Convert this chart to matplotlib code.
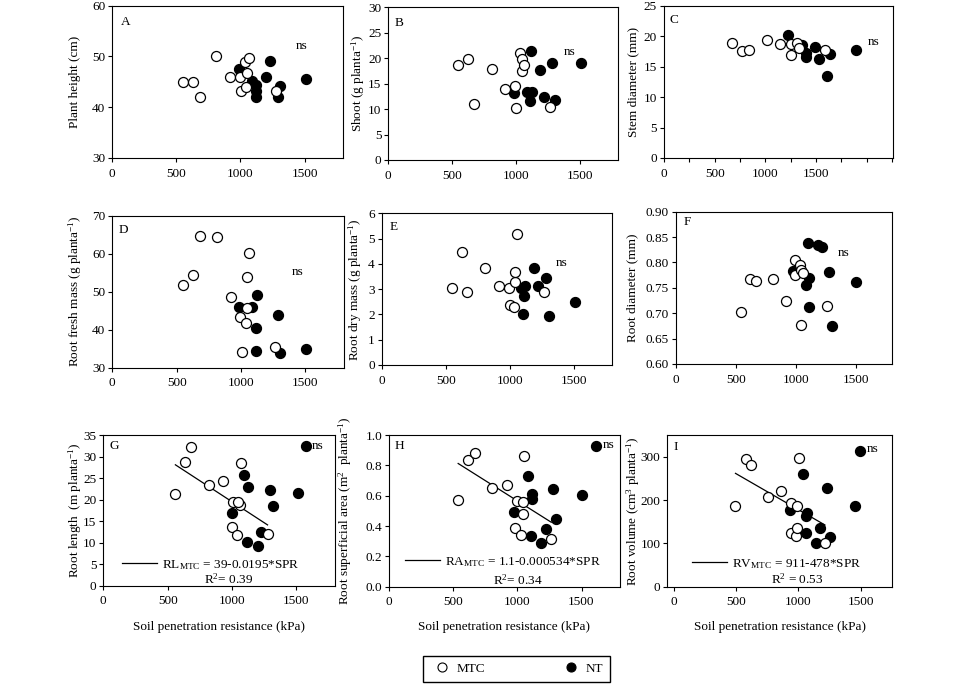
import matplotlib
matplotlib.use('Agg')
import matplotlib.pyplot as plt
from matplotlib.lines import Line2D
from matplotlib.ticker import FormatStrFormatter, FixedLocator
import matplotlib.transforms as mtransforms
import numpy as np

plt.rcParams['font.family'] = ['Liberation Serif', 'DejaVu Serif']
plt.rcParams['mathtext.fontset'] = 'custom'
plt.rcParams['mathtext.rm'] = 'Liberation Serif'
plt.rcParams['mathtext.it'] = 'Liberation Serif:italic'
plt.rcParams['mathtext.bf'] = 'Liberation Serif:bold'
plt.rcParams['font.size'] = 9.5

# ---------------- data ----------------
A_mtc_x = [551, 629, 681, 812, 922, 1000, 1005, 1039, 1070, 1052, 1047, 1274]
A_mtc_y = [45.0, 45.0, 42.1, 50.1, 46.0, 46.0, 43.1, 49.0, 49.6, 46.7, 44.0, 43.1]
A_nt_x = [992, 1091, 1123, 1123, 1125, 1201, 1227, 1308, 1292, 1514]
A_nt_y = [47.5, 45.2, 44.4, 43.1, 42.1, 46.0, 49.1, 44.2, 42.1, 45.6]

B_mtc_x = [543, 621, 671, 809, 914, 992, 1000, 1031, 1044, 1044, 1063, 1266]
B_mtc_y = [18.7, 19.8, 11.1, 17.8, 14.0, 14.6, 10.2, 21.1, 19.8, 17.5, 18.7, 10.5]
B_nt_x = [1115, 984, 1089, 1123, 1110, 1188, 1219, 1279, 1306, 1507]
B_nt_y = [21.5, 13.1, 13.4, 13.4, 11.5, 17.6, 12.3, 19.0, 11.8, 19.0]

C_mtc_x = [674, 773, 839, 1013, 1145, 1250, 1250, 1309, 1332, 1589]
C_mtc_y = [18.9, 17.6, 17.8, 19.3, 18.7, 18.7, 16.9, 18.8, 18.0, 17.7]
C_nt_x = [1227, 1365, 1398, 1398, 1490, 1533, 1638, 1606, 1892]
C_nt_y = [20.2, 18.5, 17.2, 16.5, 18.3, 16.3, 17.0, 13.5, 17.7]

D_mtc_x = [552, 629, 681, 816, 919, 992, 1005, 1044, 1036, 1049, 1062, 1264]
D_mtc_y = [51.8, 54.4, 64.6, 64.3, 48.7, 43.4, 34.2, 45.6, 41.8, 54.0, 60.1, 35.5]
D_nt_x = [984, 1088, 1121, 1116, 1114, 1285, 1303, 1502]
D_nt_y = [45.9, 46.1, 49.2, 40.4, 34.5, 43.9, 33.8, 34.8]

E_mtc_x = [545, 623, 667, 804, 916, 991, 999, 1030, 1038, 1043, 1059, 1264]
E_mtc_y = [3.03, 4.48, 2.90, 3.83, 3.13, 3.06, 2.37, 2.28, 3.30, 3.69, 5.18, 2.90]
E_nt_x = [1090, 1116, 1111, 1103, 1186, 1220, 1285, 1303, 1505]
E_nt_y = [3.03, 3.13, 2.74, 2.02, 3.83, 3.13, 3.43, 1.94, 2.48]

F_mtc_x = [542, 620, 670, 808, 917, 995, 995, 1036, 1042, 1064, 1042, 1264]
F_mtc_y = [0.702, 0.767, 0.764, 0.767, 0.725, 0.805, 0.775, 0.795, 0.785, 0.779, 0.676, 0.714]
F_nt_x = [981, 1106, 1114, 1086, 1114, 1189, 1222, 1281, 1300, 1500]
F_nt_y = [0.783, 0.838, 0.769, 0.756, 0.712, 0.834, 0.831, 0.782, 0.675, 0.762]

G_mtc_x = [560, 638, 685, 825, 930, 1008, 1060, 1050, 1003, 1042, 1073, 1276]
G_mtc_y = [21.4, 28.8, 32.3, 23.4, 24.3, 19.5, 18.7, 19.4, 13.7, 11.8, 28.6, 12.0]
G_nt_x = [997, 1094, 1128, 1120, 1203, 1229, 1297, 1315, 1516, 1575]
G_nt_y = [17.0, 25.7, 23.0, 10.2, 9.3, 12.5, 22.2, 18.5, 21.6, 32.4]

H_mtc_x = [539, 618, 670, 806, 916, 984, 995, 1029, 1042, 1042, 1055, 1264]
H_mtc_y = [0.571, 0.835, 0.884, 0.648, 0.670, 0.385, 0.565, 0.341, 0.556, 0.479, 0.862, 0.314]
H_nt_x = [977, 1086, 1113, 1113, 1107, 1186, 1220, 1278, 1304, 1505, 1610]
H_nt_y = [0.495, 0.730, 0.611, 0.578, 0.334, 0.290, 0.380, 0.642, 0.444, 0.604, 0.930]

I_mtc_x = [497, 578, 623, 759, 866, 939, 944, 984, 992, 992, 1005, 1214]
I_mtc_y = [187, 294, 281, 208, 221, 125, 192, 118, 136, 186, 298, 100]
I_nt_x = [931, 1038, 1067, 1064, 1064, 1139, 1171, 1233, 1259, 1455, 1495]
I_nt_y = [177, 259, 171, 164, 125, 100, 135, 228, 115, 187, 313]

# regression lines for MTC (intercept, slope) in panels G, H, I
fit_G = (39.0, -0.0195)
fit_H = (1.1, -0.000534)
fit_I = (344.0, -0.166)

eq_G = r'RL$_{\rm MTC}$ = 39-0.0195*SPR'
eq_H = r'RA$_{\rm MTC}$ = 1.1-0.000534*SPR'
eq_I = r'RV$_{\rm MTC}$ = 911-478*SPR'
r2_G = r'R$^2$= 0.39'
r2_H = r'R$^2$= 0.34'
r2_I = r'R$^2$ = 0.53'

series_labels = ['MTC', 'NT']
xlabel = 'Soil penetration resistance (kPa)'

# ---------------- layout ----------------
W, H = 960, 684
fig = plt.figure(figsize=(W / 100, H / 100), dpi=100)


def rect(l, r, t, b):
    return [l / W, 1 - b / H, (r - l) / W, (b - t) / H]


panels = [
    dict(k='A', box=(112.3, 343, 5.7, 158), mx=A_mtc_x, my=A_mtc_y, nx=A_nt_x, ny=A_nt_y,
         ylabel='Plant height (cm)', ylim=(30, 60), yt=[30, 40, 50, 60], fmt='%g',
         xlim=(0, 1800), ns=(1480, 52.1), ylx=75, let=(8.7, -16)),
    dict(k='B', box=(388.3, 618.3, 7.3, 160), mx=B_mtc_x, my=B_mtc_y, nx=B_nt_x, ny=B_nt_y,
         ylabel=r'Shoot (g planta$^{-1}$)', ylim=(0, 30), yt=[0, 5, 10, 15, 20, 25, 30], fmt='%g',
         xlim=(0, 1800), ns=(1418, 21.3), ylx=358.3, let=(6.7, -15.4)),
    dict(k='C', box=(664, 893, 5.7, 158), mx=C_mtc_x, my=C_mtc_y, nx=C_nt_x, ny=C_nt_y,
         ylabel='Stem diameter (mm)', ylim=(0, 25), yt=[0, 5, 10, 15, 20, 25], fmt='%g',
         xlim=(0, 2260), ns=(2066, 19.1), ylx=633.3, let=(6, -14.3), minor=True),
    dict(k='D', box=(112.3, 344, 215.7, 367.7), mx=D_mtc_x, my=D_mtc_y, nx=D_nt_x, ny=D_nt_y,
         ylabel=r'Root fresh mass (g planta$^{-1}$)', ylim=(30, 70), yt=[30, 40, 50, 60, 70], fmt='%g',
         xlim=(0, 1800), ns=(1437, 55.3), ylx=75, let=(6.7, -14.3)),
    dict(k='E', box=(381.7, 612.3, 213.3, 365), mx=E_mtc_x, my=E_mtc_y, nx=E_nt_x, ny=E_nt_y,
         ylabel=r'Root dry mass (g planta$^{-1}$)', ylim=(0, 6), yt=[0, 1, 2, 3, 4, 5, 6], fmt='%g',
         xlim=(0, 1800), ns=(1401, 4.05), ylx=355, let=(8.3, -14)),
    dict(k='F', box=(675.7, 891.7, 211.7, 364), mx=F_mtc_x, my=F_mtc_y, nx=F_nt_x, ny=F_nt_y,
         ylabel='Root diameter (mm)', ylim=(0.6, 0.9),
         yt=[0.60, 0.65, 0.70, 0.75, 0.80, 0.85, 0.90], fmt='%.2f',
         xlim=(0, 1800), ns=(1397, 0.818), ylx=632, let=(7.6, -10)),
    dict(k='G', box=(103.3, 335, 435, 585.7), mx=G_mtc_x, my=G_mtc_y, nx=G_nt_x, ny=G_nt_y,
         ylabel=r'Root length  (m planta$^{-1}$)', ylim=(0, 35), yt=[0, 5, 10, 15, 20, 25, 30, 35], fmt='%g',
         xlim=(0, 1800), ns=(1667, 32.4), ylx=75, let=(6.7, -11),
         fit=fit_G, eq=eq_G, r2=r2_G, eqpos=(121.7, 565), r2pos=(228.3, 579.3)),
    dict(k='H', box=(389, 620, 435, 586.7), mx=H_mtc_x, my=H_mtc_y, nx=H_nt_x, ny=H_nt_y,
         ylabel=r'Root superficial area (m$^2$  planta$^{-1}$)', ylim=(0, 1.0),
         yt=[0.0, 0.2, 0.4, 0.6, 0.8, 1.0], fmt='%.1f',
         xlim=(0, 1800), ns=(1710, 0.934), ylx=345, let=(6, -11),
         fit=fit_H, eq=eq_H, r2=r2_H, eqpos=(405, 561.7), r2pos=(518.3, 580)),
    dict(k='I', box=(667.3, 891.7, 435, 586.7), mx=I_mtc_x, my=I_mtc_y, nx=I_nt_x, ny=I_nt_y,
         ylabel=r'Root volume (cm$^3$ planta$^{-1}$)', ylim=(0, 350), yt=[0, 100, 200, 300], fmt='%g',
         xlim=(-50, 1750), ns=(1599, 317), ylx=633.3, let=(6, -11.7),
         fit=fit_I, eq=eq_I, r2=r2_I, eqpos=(691.7, 564), r2pos=(797, 579.3)),
]

ms = 7.2
mew = 0.9

for p in panels:
    l, r, t, b = p['box']
    ax = fig.add_axes(rect(l, r, t, b))
    ax.patch.set_alpha(0)
    for s in ax.spines.values():
        s.set_linewidth(0.8)
        s.set_color('black')
    ax.plot(p['nx'], p['ny'], 'o', ms=ms, mfc='black', mec='black', mew=mew, zorder=3)
    ax.plot(p['mx'], p['my'], 'o', ms=ms, mfc='white', mec='black', mew=mew, zorder=4)
    ax.set_xlim(*p['xlim'])
    ax.set_ylim(*p['ylim'])
    ax.set_xticks([0, 500, 1000, 1500])
    ax.set_yticks(p['yt'])
    ax.yaxis.set_major_formatter(FormatStrFormatter(p['fmt']))
    if p.get('minor'):
        ax.xaxis.set_minor_locator(FixedLocator([250, 750, 1250, 1750, 2000, 2250]))
    ax.tick_params(which='both', direction='out', length=3, width=0.8, labelsize=9.5, colors='black')
    ax.tick_params(axis='x', pad=4)
    ax.tick_params(axis='y', pad=2)
    ax.set_ylabel(p['ylabel'], fontsize=9.5)
    ax.yaxis.set_label_coords((p['ylx'] - l) / (r - l), 0.5)
    ax.yaxis.label.set_va('center')
    # panel letter
    dx, dy = p['let']
    tr = ax.transAxes + mtransforms.ScaledTranslation(dx / 100, dy / 100, fig.dpi_scale_trans)
    ax.text(0, 1, p['k'], transform=tr, ha='left', va='center', fontsize=9.5)
    ax.text(p['ns'][0], p['ns'][1], 'ns', ha='center', va='center', fontsize=9.5)
    if 'fit' in p:
        a0, a1 = p['fit']
        xs = np.array([min(p['mx']), max(p['mx'])], dtype=float)
        fl, = ax.plot(xs, a0 + a1 * xs, color='black', lw=0.9, zorder=2)
        ex, ey = p['eqpos']
        ax.legend([fl], [p['eq']], loc='center left',
                  bbox_to_anchor=((ex - l) / (r - l), (b - ey) / (b - t)),
                  frameon=False, handlelength=2.65, handletextpad=0.38,
                  borderpad=0, borderaxespad=0, fontsize=9.5)
        rx, ry = p['r2pos']
        ax.text((rx - l) / (r - l), (b - ry) / (b - t), p['r2'], transform=ax.transAxes,
                ha='center', va='center', fontsize=9.5)
        ax.set_xlabel(xlabel, fontsize=9.5)
        ax.xaxis.set_label_coords(0.5, -(626.7 - b) / (b - t))
        ax.xaxis.label.set_va('center')

handles = [Line2D([], [], marker='o', ls='none', mfc='white', mec='black', ms=6.5, mew=0.8),
           Line2D([], [], marker='o', ls='none', mfc='black', mec='black', ms=6.5, mew=0.8)]
fig.legend(handles, series_labels, loc='center',
           bbox_to_anchor=(423.3 / W, 1 - 682.7 / H, 186.7 / W, 27.7 / H),
           mode='expand', ncol=2, frameon=True, fancybox=False, edgecolor='black',
           facecolor='none', framealpha=1, borderpad=0.5, handlelength=1.8,
           handletextpad=0.2, fontsize=9.5, borderaxespad=0)

fig.savefig('out.png', dpi=100)
